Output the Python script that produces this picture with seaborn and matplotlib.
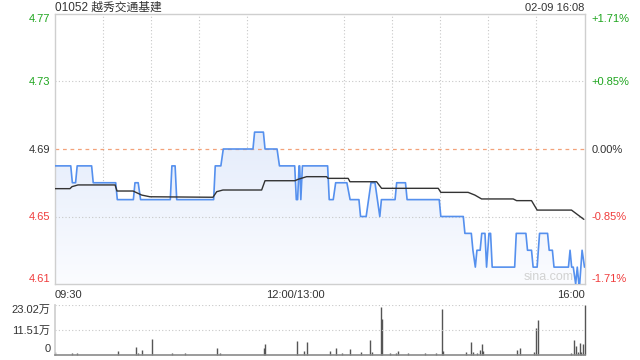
import numpy as np
import pandas as pd
import matplotlib
matplotlib.use("Agg")
import matplotlib.pyplot as plt
import seaborn as sns

# ---------------- data ----------------
title = "01052 越秀交通基建"
stamp = "02-09 16:08"
prev_close = 4.69
price_ticks = [4.61, 4.65, 4.69, 4.73, 4.77]
pct_labels = ["-1.71%", "-0.85%", "0.00%", "+0.85%", "+1.71%"]
time_ticks = [0, 150, 330]
time_labels = ["09:30", "12:00/13:00", "16:00"]

# price line vertices (minute index since 09:30 on a 330-minute session, price)
price_min = [0, 10, 11, 13, 14, 23, 24, 38, 39, 49, 50, 52, 53.5, 72, 73, 75, 76,
             99, 100, 103.5, 105, 123.5, 124.5, 130, 131, 138.5, 140, 149.5, 150.5,
             151.3, 152.2, 152.6, 153.3, 154.3, 170, 171, 173.5, 175, 182, 184, 189.5,
             190.5, 194, 197, 199.5, 201, 202.5, 203.5, 212, 213, 218.5, 219.5, 239.5,
             240.5, 254.5, 255.5, 259.5, 260.5, 262, 263, 265, 266, 268, 269, 270.5,
             271.5, 272.5, 286.5, 287.5, 293.5, 294.5, 297, 298, 300.5, 302, 307, 308,
             310, 311, 320, 321, 322, 323, 324.5, 325.5, 326.5, 327, 328.5, 330]
price_val = [4.68, 4.68, 4.67, 4.67, 4.68, 4.68, 4.67, 4.67, 4.66, 4.66, 4.67, 4.67, 4.66,
             4.66, 4.68, 4.68, 4.66, 4.66, 4.68, 4.68, 4.69, 4.69, 4.70, 4.70, 4.69, 4.69,
             4.68, 4.68, 4.66, 4.66, 4.68, 4.68, 4.66, 4.68, 4.68, 4.66, 4.66, 4.67, 4.67,
             4.66, 4.66, 4.65, 4.65, 4.67, 4.67, 4.66, 4.65, 4.66, 4.66, 4.67, 4.67, 4.66,
             4.66, 4.65, 4.65, 4.64, 4.64, 4.63, 4.62, 4.63, 4.63, 4.64, 4.64, 4.62, 4.64,
             4.64, 4.62, 4.62, 4.64, 4.64, 4.63, 4.63, 4.62, 4.62, 4.64, 4.64, 4.63, 4.63,
             4.62, 4.62, 4.63, 4.62, 4.62, 4.61, 4.62, 4.61, 4.61, 4.63, 4.62]

# average price line vertices
avg_min = [0, 9.5, 10.8, 14.5, 37.6, 38.8, 48.8, 54.2, 59.3, 98.6, 100.9, 104.8, 128.9,
           131, 149.6, 151.5, 156.9, 169.4, 170.2, 182.8, 183.9, 200.5, 203.6, 238.9,
           240.5, 257.5, 261.7, 265.9, 285.6, 287.7, 297, 300.5, 321.9, 329.6]
avg_val = [4.6665, 4.6665, 4.6677, 4.6687, 4.6687, 4.6651, 4.6651, 4.6627, 4.6617, 4.6614,
           4.6647, 4.6657, 4.6657, 4.6712, 4.6712, 4.6720, 4.6736, 4.6736, 4.6726, 4.6726,
           4.6706, 4.6706, 4.6667, 4.6667, 4.6643, 4.6643, 4.6627, 4.6604, 4.6604, 4.6594,
           4.6594, 4.6538, 4.6538, 4.6483]

# volume bars (minute, shares)
vol_min = [0, 11, 14, 39.6, 50.4, 52, 54.5, 60.4, 73, 81, 100.9, 102.9, 130.5, 131,
           150.7, 155.4, 157.3, 171.2, 175.3, 179, 184.1, 190.9, 196.1, 197.8, 203, 204,
           208.6, 212.7, 213.8, 220, 230.8, 237.6, 241.2, 242, 255.9, 259, 260.5, 263.1,
           265, 266, 267, 288, 289.9, 298.5, 300, 301, 321.3, 323.4, 324.8, 326, 327,
           328, 329, 330]
vol_val = [12000, 6000, 5000, 17000, 36000, 5000, 20000, 71000, 5000, 6000, 31000, 8000,
           30000, 48000, 64000, 17000, 57000, 17000, 31000, 6000, 26000, 12000, 67000,
           12000, 222000, 164000, 5000, 7000, 15000, 5000, 6000, 5000, 211000, 17000,
           12000, 59000, 12000, 8000, 20000, 48000, 17000, 20000, 31000, 12000, 121000,
           160000, 8000, 67000, 40000, 12000, 54000, 12000, 47000, 230200]
vol_ticks = [0, 115100, 230200]
vol_labels = ["0", "11.51万", "23.02万"]

# ---------------- style ----------------
sns.set_theme(style="white")
plt.rcParams["font.family"] = ["Liberation Sans", "Noto Sans CJK SC", "DejaVu Sans"]

GREEN = "#1ea51e"
RED = "#f03c3c"
DARK = "#333333"
GRID = "#c8c8c8"
SPINE = "#cfcfcf"
BLUE = "#5590ee"

W, H = 640, 360
fig = plt.figure(figsize=(6.4, 3.6), dpi=100)
L, R = 54.7, 584.5
ax = fig.add_axes([L / W, 1 - 284 / H, (R - L) / W, (284 - 14) / H])
axv = fig.add_axes([L / W, 1 - 354.5 / H, (R - L) / W, (354.5 - 305) / H])

price_df = pd.DataFrame({"minute": price_min, "price": price_val})
avg_df = pd.DataFrame({"minute": avg_min, "price": avg_val})

# gradient fill under price line
poly = ax.fill_between(price_df["minute"], price_df["price"], price_ticks[0],
                       color="none", lw=0)
grad = np.linspace(0, 1, 256).reshape(-1, 1)
from matplotlib.colors import LinearSegmentedColormap
cmap = LinearSegmentedColormap.from_list("g", ["#fbfcff", "#e4ecfb"])
img = ax.imshow(grad, extent=[0, 330, price_ticks[0], max(price_val)], origin="lower",
                aspect="auto", cmap=cmap, zorder=1, interpolation="bilinear")
img.set_clip_path(poly.get_paths()[0], transform=ax.transData)

sns.lineplot(data=price_df, x="minute", y="price", ax=ax, color=BLUE, lw=1.2,
             estimator=None, sort=False, zorder=4)
sns.lineplot(data=avg_df, x="minute", y="price", ax=ax, color=DARK, lw=1.0,
             estimator=None, sort=False, zorder=5)

ax.set_xlim(0, 330)
ax.set_ylim(price_ticks[0], price_ticks[-1])
ax.set_xlabel("")
ax.set_ylabel("")

# grid
for p in price_ticks[1:-1]:
    if abs(p - prev_close) < 1e-9:
        ax.axhline(p, color="#f3a27a", lw=0.9, ls=(0, (3, 3)), zorder=2)
    else:
        ax.axhline(p, color=GRID, lw=0.8, ls=(0, (1, 2)), zorder=2)
ax.set_xticks(time_ticks)
ax.set_xticks(list(range(30, 330, 30)), minor=True)
ax.grid(False)
ax.grid(True, which="minor", axis="x", color=GRID, lw=0.8, ls=(0, (1, 2)), zorder=2)
ax.tick_params(which="both", length=0)
ax.set_xticklabels(time_labels, fontsize=8, color=DARK)
for lab, ha in zip(ax.get_xticklabels(), ["left", "center", "right"]):
    lab.set_ha(ha)
ax.tick_params(axis="x", pad=4)

ax.set_yticks(price_ticks)
ax.set_yticklabels([f"{p:.2f}" for p in price_ticks], fontsize=8)
ycols = [RED, RED, DARK, GREEN, GREEN]
for i, lab in enumerate(ax.get_yticklabels()):
    lab.set_color(ycols[i])
    if i == 0:
        lab.set_va("bottom")
    elif i == len(price_ticks) - 1:
        lab.set_va("top")
ax.tick_params(axis="y", pad=3)
for s in ax.spines.values():
    s.set_color(SPINE)
    s.set_linewidth(1.0)

ax2 = ax.twinx()
ax2.set_ylim(price_ticks[0], price_ticks[-1])
ax2.set_yticks(price_ticks)
ax2.set_yticklabels(pct_labels, fontsize=8)
for i, lab in enumerate(ax2.get_yticklabels()):
    lab.set_color(ycols[i])
    if i == 0:
        lab.set_va("bottom")
    elif i == len(price_ticks) - 1:
        lab.set_va("top")
ax2.tick_params(axis="y", length=0, pad=5)
ax2.grid(False)
for s in ax2.spines.values():
    s.set_visible(False)

ax.text(0.98, 0.005, "sina.com", transform=ax.transAxes, ha="right", va="bottom",
        fontsize=9, color="#d2d2d2", zorder=6)

# volume panel
axv.vlines(vol_min, 0, vol_val, color="#555555", lw=1.0, clip_on=False)
axv.set_xlim(0, 330)
axv.set_ylim(0, vol_ticks[-1])
axv.set_yticks(vol_ticks)
axv.set_yticklabels(vol_labels, fontsize=8, color=DARK)
for i, lab in enumerate(axv.get_yticklabels()):
    if i == 0:
        lab.set_va("bottom")
    elif i == len(vol_ticks) - 1:
        lab.set_va("top")
axv.set_xticks([])
axv.tick_params(axis="y", length=0, pad=3)
for v in vol_ticks[1:]:
    axv.axhline(v, color=GRID, lw=0.8, ls=(0, (1, 2)))
axv.grid(False)
for k in ["top", "right"]:
    axv.spines[k].set_visible(False)
axv.spines["left"].set_color(SPINE)
axv.spines["bottom"].set_color("#8a8a8a")
axv.spines["bottom"].set_linewidth(1.2)
axv.spines["bottom"].set_linestyle((0, (1.5, 1)))

fig.text(L / W, 1 - 8 / H, title, ha="left", va="center", fontsize=8.5, color=DARK)
fig.text(584 / W, 1 - 8 / H, stamp, ha="right", va="center", fontsize=8, color=DARK)

fig.savefig("out.png", dpi=100, facecolor="white")
